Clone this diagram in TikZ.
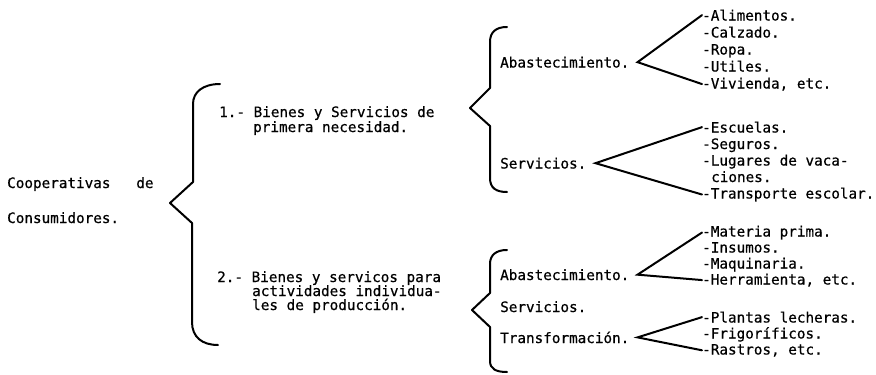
\documentclass[tikz,border=0pt]{standalone}
\usepackage{fontspec}
\newfontfamily\tw[FakeBold=0.6]{DejaVu Sans Mono}
\usetikzlibrary{positioning}
\begin{document}
\begin{tikzpicture}[x=1pt,y=-1pt,
  txt/.style={anchor=base west,inner sep=0pt,font=\tw\fontsize{14.3}{16}\selectfont},
  brace/.style={line width=2pt,line join=round,line cap=round},
  wedge/.style={line width=2pt,line cap=round}]
\useasboundingbox (0,0) rectangle (876,375);
%%
\node (node_coop) at (7,188) [txt] {Cooperativas\ \ \ de};
\node (node_cons) at (7,223) [txt] {Consumidores.};
\node (node_bienA1) at (219,117) [txt] {1.- Bienes y Servicios de};
\node (node_bienA2) at (253,132) [txt] {primera necesidad.};
\node (node_bienB1) at (217,282) [txt] {2.- Bienes y servicos para};
\node (node_bienB2) at (252,296) [txt] {actividades individua-};
\node (node_bienB3) at (252,310) [txt] {les de producción.};
\node (node_abastA) at (500,67.5) [txt] {Abastecimiento.};
\node (node_servA) at (500,168.5) [txt] {Servicios.};
\node (node_abastB) at (500,280) [txt] {Abastecimiento.};
\node (node_servB) at (500,312) [txt] {Servicios.};
\node (node_transf) at (500,343) [txt] {Transformación.};
%
\node (node_alim) at (702,20.5) [txt] {-Alimentos.};
\node (node_calz) at (702,37.5) [txt] {-Calzado.};
\node (node_ropa) at (702,54.5) [txt] {-Ropa.};
\node (node_util) at (702,71.5) [txt] {-Utiles.};
\node (node_viv) at (702,88.5) [txt] {-Vivienda, etc.};
\node (node_esc) at (702,132.5) [txt] {-Escuelas.};
\node (node_seg) at (702,149) [txt] {-Seguros.};
\node (node_lug) at (702,165.5) [txt] {-Lugares de vaca-};
\node (node_cion) at (711,182) [txt] {ciones.};
\node (node_trans) at (702,198.5) [txt] {-Transporte escolar.};
\node (node_mat) at (702,236.5) [txt] {-Materia prima.};
\node (node_ins) at (702,252.5) [txt] {-Insumos.};
\node (node_maq) at (702,268.5) [txt] {-Maquinaria.};
\node (node_herr) at (702,284.5) [txt] {-Herramienta, etc.};
\node (node_plan) at (702,322.5) [txt] {-Plantas lecheras.};
\node (node_frig) at (702,338.5) [txt] {-Frigoríficos.};
\node (node_rast) at (702,354.5) [txt] {-Rastros, etc.};
%
\draw [brace] (220,84) .. controls (203,84) and (193,92) .. (193,104) -- (193,182) -- (170,203) -- (192,223) -- (192,322) .. controls (192,337) and (202,345) .. (218,345);
\draw [brace] (507,27) .. controls (496,27) and (490,32) .. (490,42) -- (490,88) -- (470,108) -- (490,126) -- (490,178) .. controls (490,188) and (496,192) .. (507,192);
\draw [brace] (507,250) .. controls (496,250) and (490,255) .. (490,264) -- (490,293) -- (472,310) -- (490,327) -- (490,361) .. controls (490,369) and (496,372) .. (507,372);
%
\coordinate (tip_abastA) at ([xshift=8pt]node_abastA.east);
\coordinate (tip_servA) at ([xshift=9pt]node_servA.east);
\coordinate (tip_abastB) at ([xshift=8pt]node_abastB.east);
\coordinate (tip_transf) at ([xshift=8pt]node_transf.east);
\draw [wedge] (node_alim.west) -- (tip_abastA) -- (node_viv.west);
\draw [wedge] (node_esc.west) -- (tip_servA) -- (node_trans.west);
\draw [wedge] (node_mat.west) -- (tip_abastB) -- (node_herr.west);
\draw [wedge] (node_plan.west) -- (tip_transf) -- (node_rast.west);
%
\end{tikzpicture}
\end{document}
